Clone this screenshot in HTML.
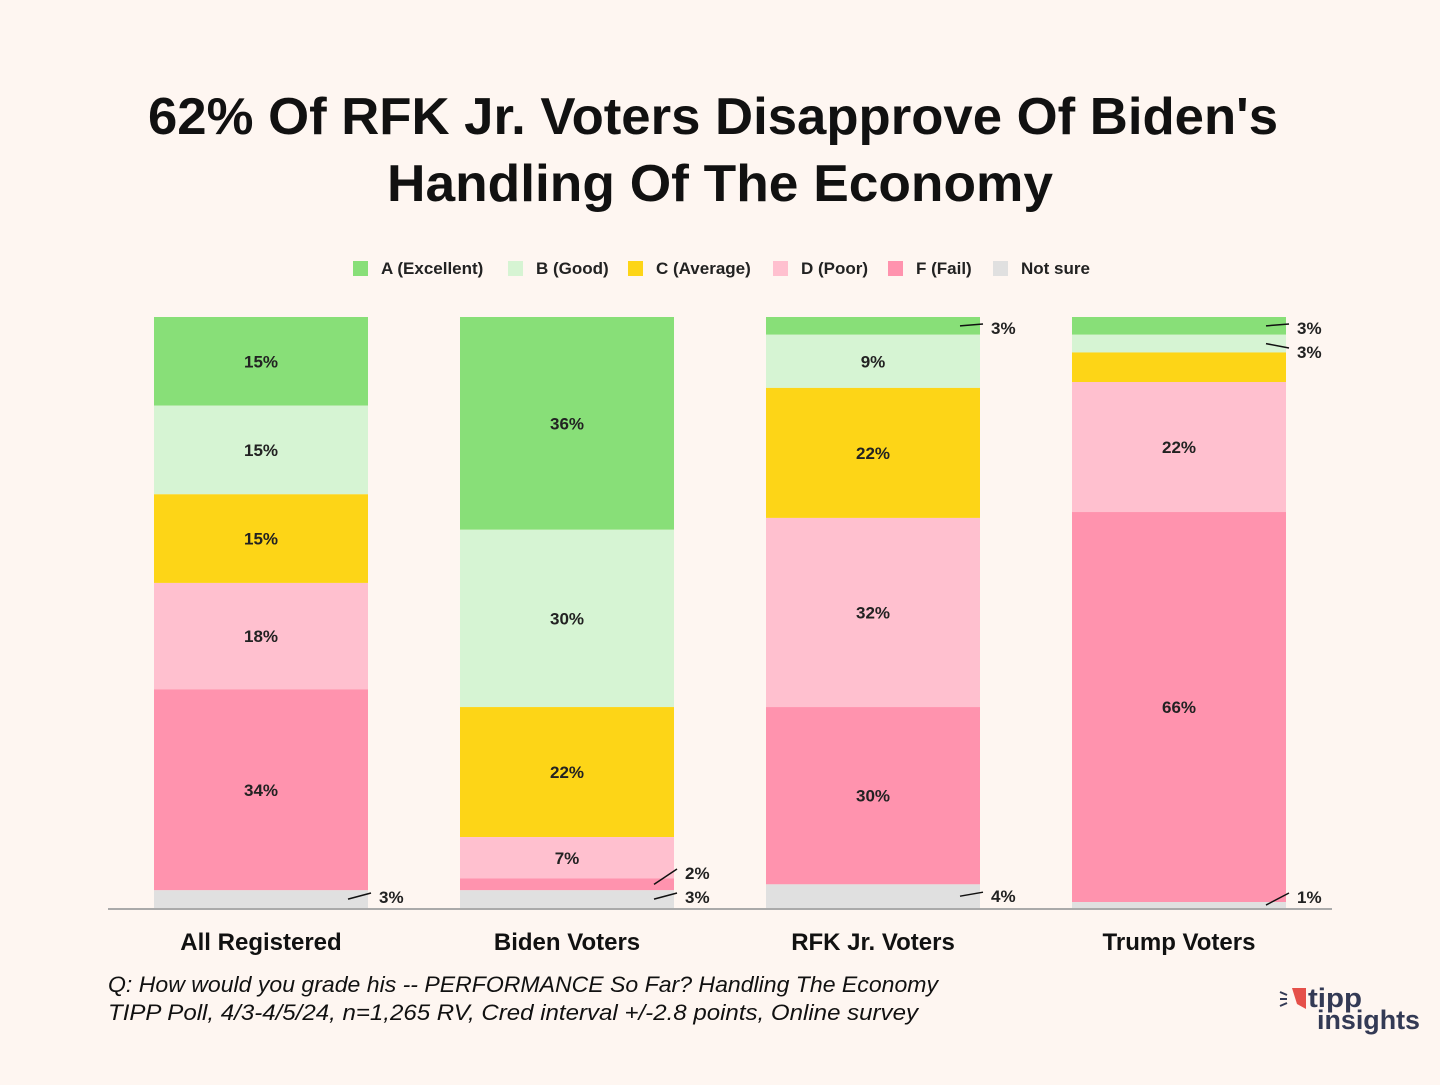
<!DOCTYPE html>
<html><head><meta charset="utf-8">
<style>
html,body{margin:0;padding:0;background:#fef6f1;}
body{width:1440px;height:1080px;overflow:hidden;font-family:"Liberation Sans","DejaVu Sans",sans-serif;}
</style></head>
<body>
<svg id="chart" width="1440" height="1080" xmlns="http://www.w3.org/2000/svg">
<rect width="1440" height="1080" fill="#fef6f1"/>
<text x="713" y="134" text-anchor="middle" font-size="52" font-weight="bold" fill="#111" textLength="1130" lengthAdjust="spacingAndGlyphs">62% Of RFK Jr. Voters Disapprove Of Biden's</text>
<text x="720" y="201" text-anchor="middle" font-size="52" font-weight="bold" fill="#111" textLength="666" lengthAdjust="spacingAndGlyphs">Handling Of The Economy</text>
<g id="legend"></g>
<g id="bars"></g>
<line x1="108" y1="909" x2="1332" y2="909" stroke="#aaa" stroke-width="2"/>
<text x="108" y="992" font-size="22" font-style="italic" fill="#111" textLength="830" lengthAdjust="spacingAndGlyphs">Q:  How would you grade his -- PERFORMANCE So Far? Handling The Economy</text>
<text x="108" y="1020" font-size="22" font-style="italic" fill="#111" textLength="810" lengthAdjust="spacingAndGlyphs">TIPP Poll, 4/3-4/5/24, n=1,265 RV, Cred interval +/-2.8 points, Online survey</text>
<g>
<path d="M1292 988 L1306 988 L1306 1009 L1297 1004 Z" fill="#e5504a"/>
<line x1="1280" y1="992" x2="1287" y2="995" stroke="#333a55" stroke-width="2"/>
<line x1="1280" y1="999" x2="1287" y2="999" stroke="#333a55" stroke-width="2"/>
<line x1="1280" y1="1006" x2="1287" y2="1003" stroke="#333a55" stroke-width="2"/>
<text x="1308" y="1007" font-size="27" font-weight="bold" fill="#333a55" textLength="54" lengthAdjust="spacingAndGlyphs">tipp</text>
<text x="1317" y="1029" font-size="27" font-weight="bold" fill="#333a55" textLength="103" lengthAdjust="spacingAndGlyphs">insights</text>
</g>
</svg>
<script>
const categories=["All Registered","Biden Voters","RFK Jr. Voters","Trump Voters"];
const seriesNames=["A (Excellent)","B (Good)","C (Average)","D (Poor)","F (Fail)","Not sure"];
const seriesA=[15,36,3,3];
const seriesB=[15,30,9,3];
const seriesC=[15,22,22,5];
const seriesD=[18,7,32,22];
const seriesF=[34,2,30,66];
const seriesNS=[3,3,4,1];
const colors=["#88df78","#d6f4d3","#fdd517","#ffc0cf","#ff93ae","#e0e0e0"];
const NS="http://www.w3.org/2000/svg";
const gBars=document.getElementById('bars');
const gLeg=document.getElementById('legend');
const series=[seriesA,seriesB,seriesC,seriesD,seriesF,seriesNS];
const plotTop=317, plotBottom=908, barW=214;
function xPos(i){return 154+i*306;}
function yScale(v,total){return (plotBottom-plotTop)*v/total;}
function mk(tag,attrs){const e=document.createElementNS(NS,tag);for(const k in attrs)e.setAttribute(k,attrs[k]);return e;}
const legX=[353,508,628,773,888,993];
seriesNames.forEach((n,s)=>{
  const r=mk('rect',{x:legX[s],y:261,width:15,height:15,fill:colors[s]});
  
  
  gLeg.appendChild(r);
  const t=mk('text',{x:legX[s]+28,y:274,'font-size':17,'font-weight':'bold',fill:'#222'});
  t.textContent=n;
  
  
  gLeg.appendChild(t);
});
categories.forEach((c,i)=>{
  const x=xPos(i);
  let total=0;series.forEach(s=>total+=s[i]);
  let y=plotTop;
  const outside=[];
  series.forEach((s,k)=>{
    const v=s[i];const h=yScale(v,total);
    const r=mk('rect',{x:x,y:y,width:barW,height:h,fill:colors[k]});
    
    
    gBars.appendChild(r);
    const cy=y+h/2;
    if(v>=7){
      const t=mk('text',{x:x+barW/2,y:cy+6,'text-anchor':'middle','font-size':17,'font-weight':'bold',fill:'#222'});
      t.textContent=v+'%';
      
      
      gBars.appendChild(t);
    } else if(v<=4){outside.push({v:v,cy:cy});}
    y+=h;
  });
  const bottomOnes=outside.filter(o=>o.cy>plotTop+150).sort((a,b)=>b.cy-a.cy);
  const topOnes=outside.filter(o=>o.cy<=plotTop+150).sort((a,b)=>a.cy-b.cy);
  let prev=plotBottom-11+24;
  bottomOnes.forEach(o=>{o.ly=Math.min(o.cy,prev-24,plotBottom-11);prev=o.ly;});
  prev=plotTop+11-24;
  topOnes.forEach(o=>{o.ly=Math.max(o.cy,prev+24,plotTop+11);prev=o.ly;});
  outside.forEach(o=>{
    const l=mk('line',{x1:x+barW-20,y1:Math.min(o.cy,plotBottom-2),x2:x+barW+3,y2:o.ly-4,stroke:'#111','stroke-width':1.5});
    
    
    gBars.appendChild(l);
    const t=mk('text',{x:x+barW+11,y:o.ly+6,'font-size':17,'font-weight':'bold',fill:'#222'});
    t.textContent=o.v+'%';
    
    
    gBars.appendChild(t);
  });
  const t=mk('text',{x:x+barW/2,y:950,'text-anchor':'middle','font-size':24,'font-weight':'bold',fill:'#111'});
  t.textContent=c;
  
  
  gBars.appendChild(t);
});
</script>
</body></html>
